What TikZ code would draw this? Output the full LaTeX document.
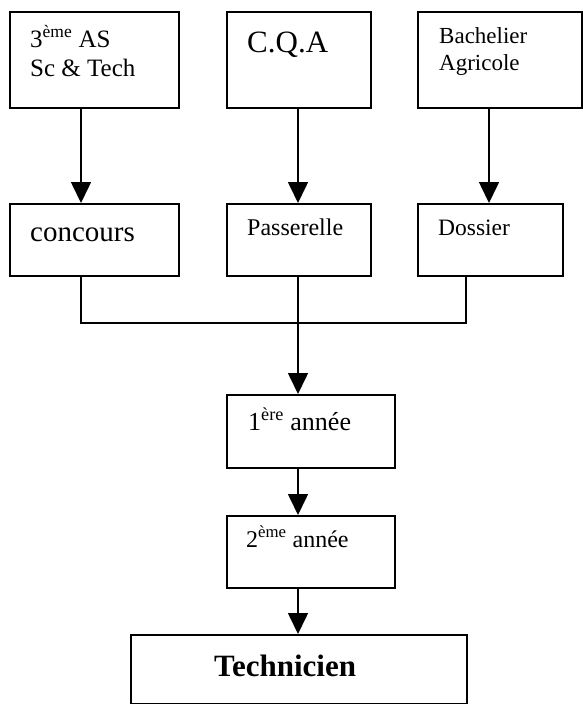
\documentclass[tikz,border=0pt]{standalone}
\usepackage{fontspec}
\setmainfont{Liberation Serif}
\usetikzlibrary{arrows.meta}
\begin{document}
\begin{tikzpicture}[x=1pt,y=-1pt,
  box/.style={draw,line width=1.6pt,inner sep=0pt,anchor=north west},
  lbl/.style={anchor=base west,inner sep=0pt},
  link/.style={line width=1.6pt},
  arr/.style={line width=1.6pt,-{Triangle[width=20pt,length=21pt]}}]
\useasboundingbox (0,0) rectangle (582,704);
% boxes
\node[box,minimum width=169pt,minimum height=96pt] (b1) at (9,11) {};
\node[box,minimum width=144pt,minimum height=96pt] (b2) at (226,11) {};
\node[box,minimum width=164pt,minimum height=96pt] (b3) at (417,11) {};
\node[box,minimum width=169pt,minimum height=72pt] (b4) at (9,203) {};
\node[box,minimum width=144pt,minimum height=72pt] (b5) at (226,203) {};
\node[box,minimum width=145pt,minimum height=72pt] (b6) at (417,203) {};
\node[box,minimum width=168pt,minimum height=73pt] (b7) at (226,394) {};
\node[box,minimum width=168pt,minimum height=72pt] (b8) at (226,515) {};
\node[box,minimum width=336pt,minimum height=69pt] (b9) at (130,634) {};
% texts
\node[lbl,font=\fontsize{25}{30}\selectfont] (t1a) at (30,47) {3\textsuperscript{ème} AS};
\node[lbl,font=\fontsize{25}{30}\selectfont] (t1b) at (30,76) {Sc \& Tech};
\node[lbl,font=\fontsize{31}{36}\selectfont] (t2) at (247,52) {C.Q.A};
\node[lbl,font=\fontsize{23}{28}\selectfont] (t3a) at (439,43) {Bachelier};
\node[lbl,font=\fontsize{23}{28}\selectfont] (t3b) at (439,70) {Agricole};
\node[lbl,font=\fontsize{29}{34}\selectfont] (t4) at (30,241) {concours};
\node[lbl,font=\fontsize{24}{29}\selectfont] (t5) at (247,235) {Passerelle};
\node[lbl,font=\fontsize{23.5}{28}\selectfont] (t6) at (438,235) {Dossier};
\node[lbl,font=\fontsize{26}{31}\selectfont] (t7) at (248,430) {1\textsuperscript{ère} année};
\node[lbl,font=\fontsize{24}{29}\selectfont] (t8) at (246,547) {2\textsuperscript{ème} année};
\node[lbl,font=\fontsize{31}{36}\selectfont\bfseries] (t9) at (214,676) {Technicien};
% connector columns
\coordinate (xa) at (81,0);
\coordinate (xb) at (298,0);
\coordinate (xc) at (489,0);
\coordinate (xd) at (466,0);
\coordinate (hy) at (0,323);
\draw[arr] (b1.south -| xa) -- (b4.north -| xa);
\draw[arr] (b2.south -| xb) -- (b5.north -| xb);
\draw[arr] (b3.south -| xc) -- (b6.north -| xc);
\draw[link] (b4.south -| xa) |- (hy -| xd) -- (b6.south -| xd);
\draw[arr] (b5.south -| xb) -- (b7.north -| xb);
\draw[arr] (b7.south -| xb) -- (b8.north -| xb);
\draw[arr] (b8.south -| xb) -- (b9.north -| xb);
\end{tikzpicture}
\end{document}
